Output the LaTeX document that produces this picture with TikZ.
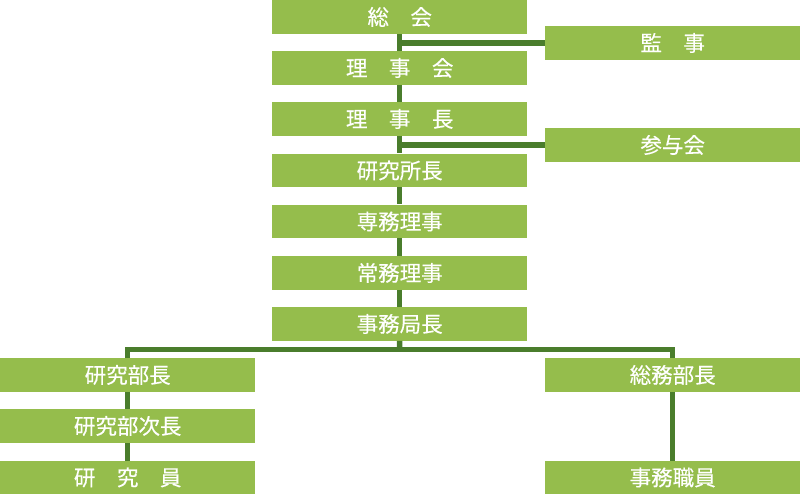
\documentclass[tikz,border=0pt]{standalone}
\usepackage{fontspec}
\newfontfamily\jpfont[FakeBold=0.35]{Noto Sans CJK JP}
\definecolor{boxgreen}{HTML}{95BD4C}
\definecolor{linegreen}{HTML}{4A7D2C}
\begin{document}
\begin{tikzpicture}[x=1pt,y=-1pt,
  orgbox/.style={rectangle, fill=boxgreen, draw=none, anchor=north west,
    minimum width=255pt, minimum height=33.5pt, inner sep=0pt,
    text=white, font=\jpfont\fontsize{21.5}{23}\selectfont},
  conn/.style={draw=linegreen, line width=5.5pt, line join=miter}]
\useasboundingbox (0,0) rectangle (800,494);
% centre column
\node[orgbox] (sokai) at (272,0) {総　会};
\node[orgbox] (rijikai) at (272,51) {理　事　会};
\node[orgbox] (rijicho) at (272,102) {理　事　長};
\node[orgbox] (kenshocho) at (272,153.5) {研究所長};
\node[orgbox] (senmu) at (272,204.5) {専務理事};
\node[orgbox] (jomu) at (272,256) {常務理事};
\node[orgbox] (jimukyoku) at (272,307) {事務局長};
% right side
\node[orgbox] (kanji) at (545,26) {監　事};
\node[orgbox] (sanyo) at (545,128) {参与会};
% bottom left
\node[orgbox] (kenbucho) at (0,358) {研究部長};
\node[orgbox] (kenbujicho) at (0,409) {研究部次長};
\node[orgbox] (kenkyuin) at (0,460.5) {研　究　員};
% bottom right
\node[orgbox] (somubucho) at (545,358) {総務部長};
\node[orgbox] (jimushokuin) at (545,460.5) {事務職員};
% connectors
\draw[conn] (sokai.south) -- (rijikai.north);
\draw[conn] (rijikai.south) -- (rijicho.north);
\draw[conn] (rijicho.south) -- (kenshocho.north);
\draw[conn] (kenshocho.south) -- (senmu.north);
\draw[conn] (senmu.south) -- (jomu.north);
\draw[conn] (jomu.south) -- (jimukyoku.north);
\draw[conn] (kanji.west) -- ([xshift=-2.75pt]sokai.south |- kanji.west);
\draw[conn] (sanyo.west) -- ([xshift=-2.75pt]rijicho.south |- sanyo.west);
\coordinate (bar) at (399.5,349.5);
\draw[conn] (jimukyoku.south) -- (bar);
\draw[conn] (kenbucho.north) |- (bar) -| (somubucho.north);
\draw[conn] (kenbucho.south) -- (kenbujicho.north);
\draw[conn] (kenbujicho.south) -- (kenkyuin.north);
\draw[conn] (somubucho.south) -- (jimushokuin.north);
\end{tikzpicture}
\end{document}
